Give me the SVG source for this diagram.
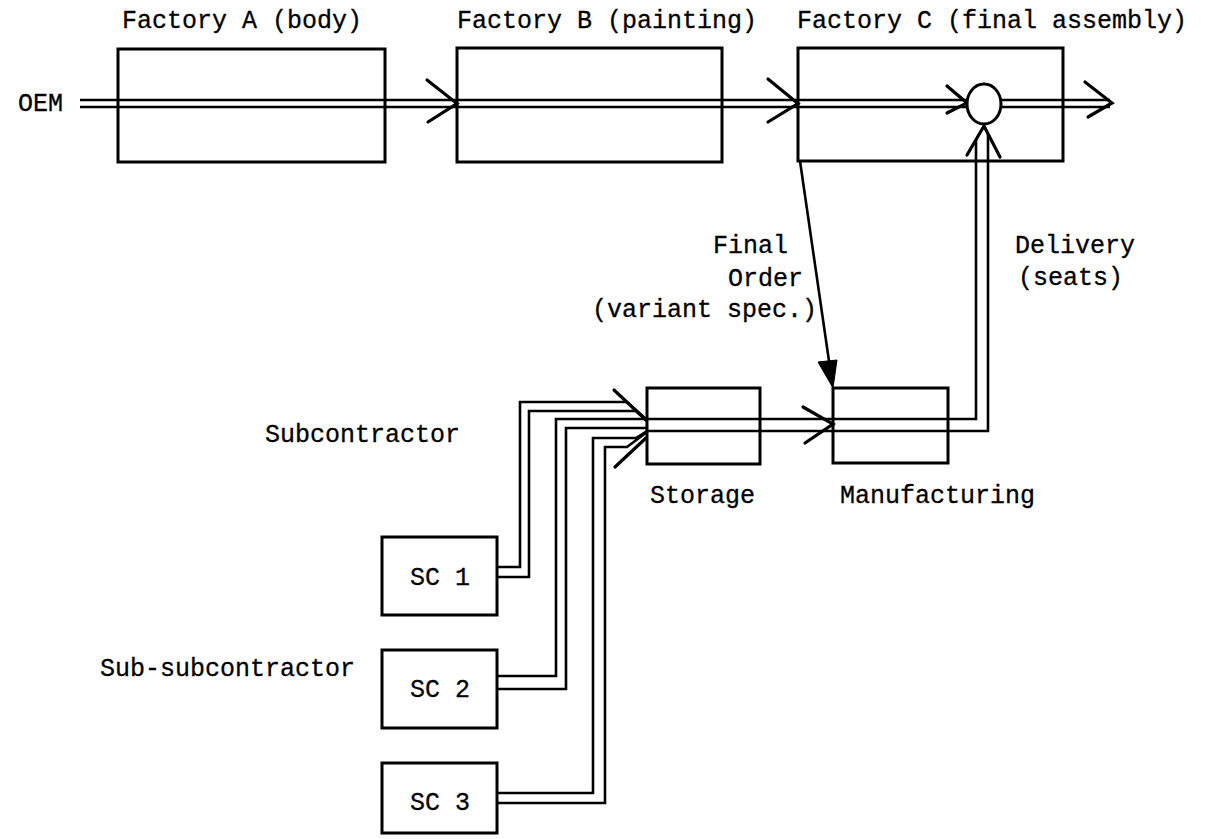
<svg xmlns="http://www.w3.org/2000/svg" width="1210" height="839" viewBox="0 0 1210 839">
<style>
.box{fill:none;stroke:#000;stroke-width:3}
.ln{fill:none;stroke:#000;stroke-width:2.6;stroke-linejoin:miter}
.ar{fill:none;stroke:#000;stroke-width:3.2;stroke-linecap:round;stroke-linejoin:miter}
text{font-family:"Liberation Mono","DejaVu Sans Mono",monospace;font-size:25px;fill:#000;stroke:#000;stroke-width:0.3}
</style>
<rect width="1210" height="839" fill="#fff"/>
<g id="connectors">
<path class="ln" d="M80,100 L967,100 M80,107 L967,107"/>
<path class="ln" d="M1001,100 L1110,100 M1001,107 L1110,107"/>
<path class="ar" d="M427,80 L457,103.5 L428,122"/>
<path class="ar" d="M768,79 L798,103.5 L768,122"/>
<path class="ar" d="M947,86 L967,103 L947,113"/>
<path class="ar" d="M1085,82 L1112,103 L1088,117"/>
<path class="ln" d="M647,419 L976,419 L976,140 M647,431 L988,431 L988,134"/>
<path class="ar" d="M967,155 L984,126 L1000,157"/>
<path class="ar" d="M803,407 L833,424 L805,443"/>
<path class="ln" d="M800,161 L830,368" stroke-width="3"/>
<polygon points="833,388 818,362 837,360" fill="#000" stroke="#000" stroke-width="1"/>
<path class="ln" d="M497,567 L520,567 L520,402 L627,402 L647,420 M497,577 L529,577 L529,411 L636,411 L647,421"/>
<path class="ln" d="M497,676 L556,676 L556,419 L647,419 M497,689 L566,689 L566,428 L647,428"/>
<path class="ln" d="M497,793 L593,793 L593,438 L636,438 L647,431 M497,803 L605,803 L605,447 L627,447 L647,432"/>
<path class="ar" d="M614,390 L646,420 M615,467 L646,438"/>
</g>
<g id="oem"><text x="18" y="111">OEM</text></g>
<g id="factoryA"><rect class="box" x="118" y="49" width="267" height="113"/><text x="122" y="28">Factory A (body)</text></g>
<g id="factoryB"><rect class="box" x="457" y="48" width="265" height="114"/><text x="457" y="28">Factory B (painting)</text></g>
<g id="factoryC"><rect class="box" x="798" y="48" width="265" height="113"/><text x="797" y="28">Factory C (final assembly)</text></g>
<g id="merge"><ellipse cx="984" cy="104" rx="17" ry="20" fill="#fff" stroke="#000" stroke-width="3"/></g>
<g id="storage"><rect class="box" x="647" y="388" width="113" height="76"/><text x="650" y="503">Storage</text></g>
<g id="manufacturing"><rect class="box" x="833" y="388" width="115" height="75"/><text x="840" y="503">Manufacturing</text></g>
<g id="sc1"><rect class="box" x="382" y="537" width="115" height="78"/><text x="410" y="585">SC 1</text></g>
<g id="sc2"><rect class="box" x="382" y="650" width="115" height="78"/><text x="410" y="697">SC 2</text></g>
<g id="sc3"><rect class="box" x="382" y="763" width="115" height="70"/><text x="410" y="810">SC 3</text></g>
<g id="labels">
<text x="788" y="253" text-anchor="end">Final</text>
<text x="803" y="286" text-anchor="end">Order</text>
<text x="817" y="317" text-anchor="end">(variant spec.)</text>
<text x="1015" y="253">Delivery</text>
<text x="1018" y="285">(seats)</text>
<text x="265" y="442">Subcontractor</text>
<text x="100" y="676">Sub-subcontractor</text>
</g>
</svg>
